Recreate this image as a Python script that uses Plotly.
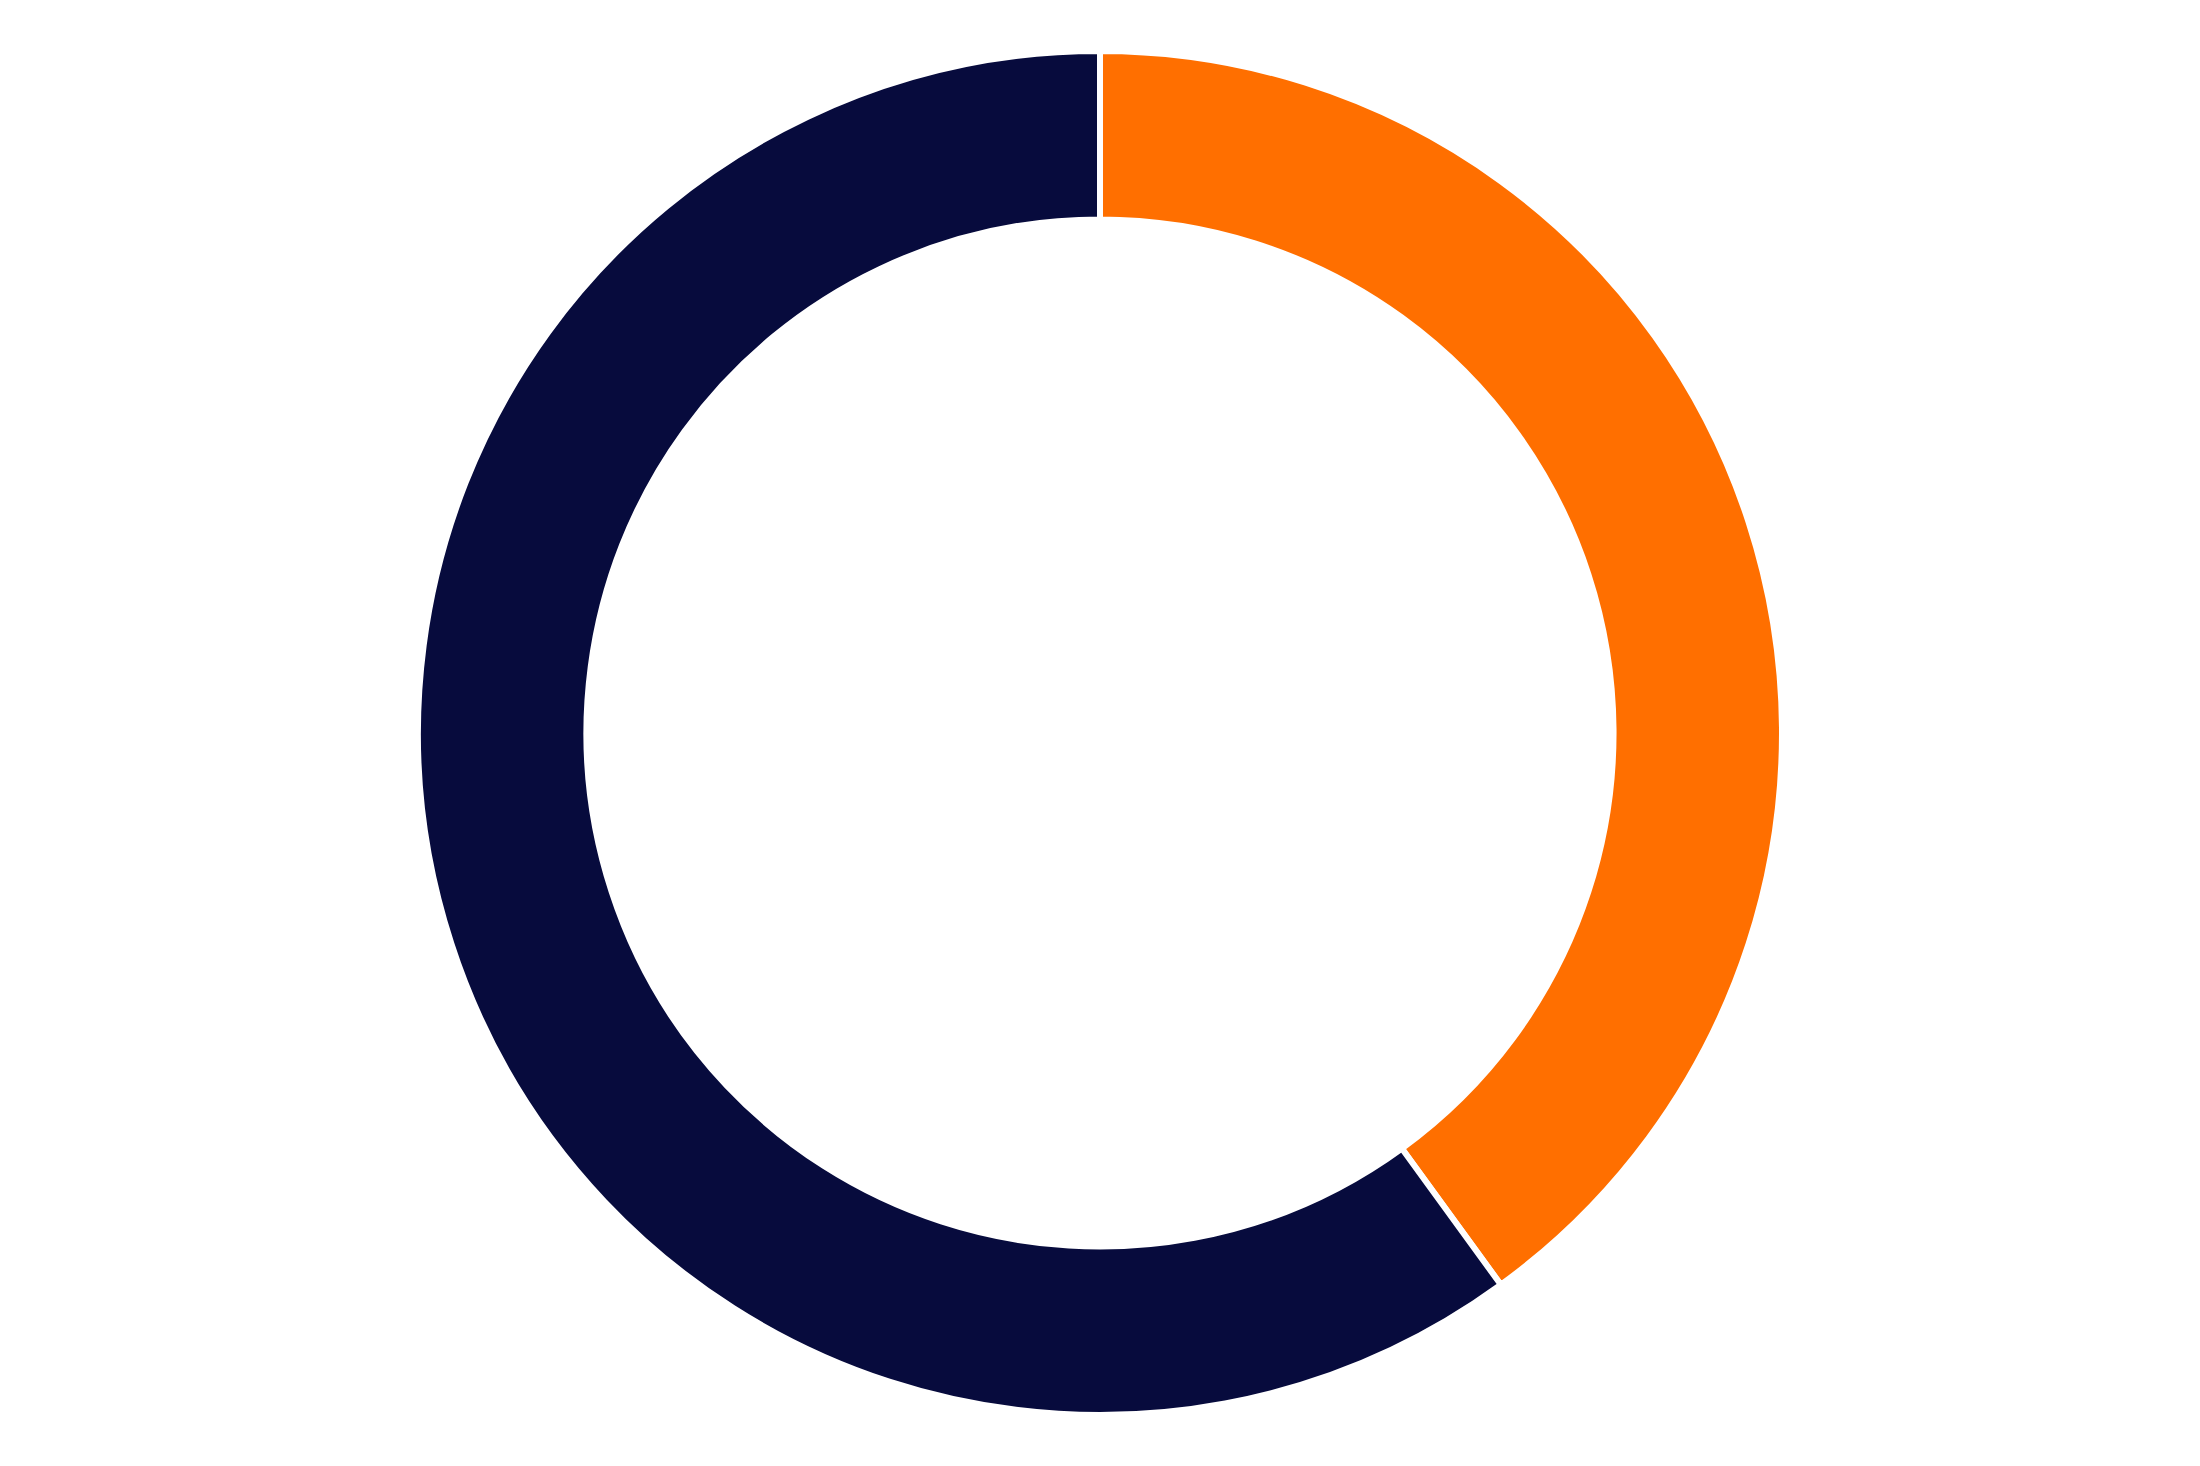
import plotly.graph_objects as go

labels = ["Orange", "Navy"]
values = [40, 60]
colors = ["#FF6F00", "#070B3D"]

fig = go.Figure(
    go.Pie(
        labels=labels,
        values=values,
        hole=0.753,
        sort=False,
        direction="clockwise",
        rotation=0,
        textinfo="none",
        hoverinfo="label+percent",
        marker=dict(colors=colors, line=dict(color="white", width=6)),
    )
)
fig.update_layout(
    showlegend=False,
    paper_bgcolor="white",
    plot_bgcolor="white",
    margin=dict(l=43, r=43, t=43, b=43),
)
fig.write_html("out.html")
